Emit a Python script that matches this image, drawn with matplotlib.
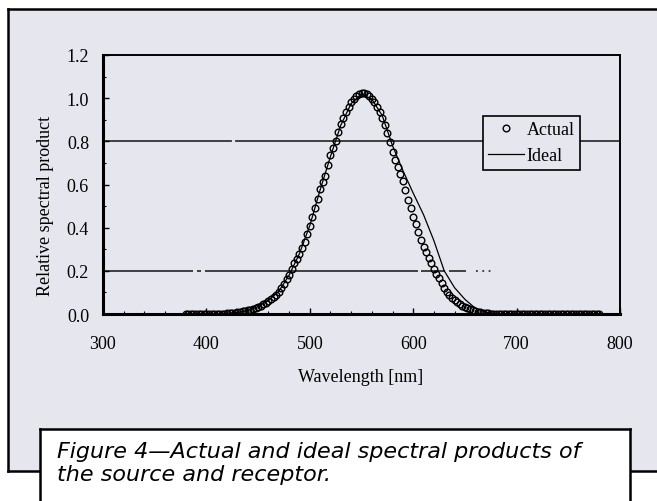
import matplotlib
matplotlib.use("Agg")
import matplotlib.pyplot as plt
import numpy as np
from matplotlib.patches import Rectangle
from matplotlib.lines import Line2D
from matplotlib.ticker import MultipleLocator

# measured ("actual") spectral product, sampled every 2.5 nm from 380 to 780 nm
wl_actual = np.linspace(380, 780, 161)
actual = ([0.0] * 16 +
          [0.003, 0.004, 0.005, 0.006, 0.008, 0.010, 0.012, 0.014, 0.017, 0.020,
           0.023, 0.028, 0.033, 0.039, 0.046, 0.053, 0.060, 0.070, 0.080, 0.090,
           0.100, 0.120, 0.140, 0.160, 0.180, 0.208, 0.235, 0.257, 0.280, 0.307,
           0.335, 0.372, 0.410, 0.450, 0.490, 0.535, 0.580, 0.610, 0.640, 0.690,
           0.735, 0.768, 0.800, 0.842, 0.880, 0.910, 0.935, 0.960, 0.980, 0.997,
           1.010, 1.020, 1.025, 1.024, 1.020, 1.010, 0.995, 0.980, 0.960, 0.937,
           0.910, 0.877, 0.840, 0.795, 0.750, 0.715, 0.680, 0.648, 0.615, 0.573,
           0.530, 0.490, 0.450, 0.415, 0.380, 0.345, 0.310, 0.285, 0.260, 0.235,
           0.210, 0.187, 0.165, 0.142, 0.120, 0.103, 0.087, 0.076, 0.065, 0.056,
           0.047, 0.039, 0.032, 0.027, 0.022, 0.018, 0.014, 0.011, 0.008, 0.006,
           0.004, 0.003, 0.002, 0.001] +
          [0.0] * 41)

# ideal product, every 10 nm
wl_ideal = list(range(380, 790, 10))
ideal = [0.0, 0.0, 0.0, 0.001, 0.003, 0.007, 0.016, 0.034, 0.062, 0.105,
         0.18, 0.28, 0.41, 0.575, 0.73, 0.875, 0.975, 1.02, 0.995, 0.92,
         0.78, 0.665, 0.56, 0.46, 0.34, 0.20, 0.122, 0.068, 0.027, 0.008,
         0.001, 0.0, 0.0, 0.0, 0.0, 0.0, 0.0, 0.0, 0.0, 0.0, 0.0]

xticks = [300, 400, 500, 600, 700, 800]
xtick_labels = ["300", "400", "500", "600", "700", "800"]
yticks = [0.0, 0.2, 0.4, 0.6, 0.8, 1.0, 1.2]
ytick_labels = ["0.0", "0.2", "0.4", "0.6", "0.8", "1.0", "1.2"]

caption1 = "Figure 4\u2014Actual and ideal spectral products of"
caption2 = "the source and receptor."

W, H = 657, 502
panel = "#e6e6ee"

plt.rcParams["font.family"] = ["Liberation Serif", "DejaVu Serif"]

fig = plt.figure(figsize=(W / 100, H / 100), dpi=100)
fig.patch.set_facecolor("white")


def fx(px):
    return px / W


def fy(py):
    return 1 - py / H


# grey panel behind the chart, runs off the right edge (fill + border lines)
fig.add_artist(Rectangle((fx(8), fy(472)), fx(700), 462 / H,
                         transform=fig.transFigure, facecolor=panel,
                         edgecolor="none", zorder=-5))
for xs, ys in [([8, 700], [10, 10]), ([8, 8], [10, 472]), ([8, 700], [472, 472])]:
    fig.add_artist(Line2D([fx(v) for v in xs], [fy(v) for v in ys],
                          transform=fig.transFigure, color="black", lw=1.8,
                          zorder=-4))

ax = fig.add_axes([fx(103), fy(315), 517 / W, 259 / H])
ax.set_facecolor(panel)

# reference lines (as they survive in the scan)
ax.axhline(0.8, xmin=0, xmax=0.248, color="#333333", lw=1.3, zorder=1)
ax.axhline(0.8, xmin=0.257, xmax=1, color="#333333", lw=1.3, zorder=1)
for a, b in [(300, 387), (391, 395), (399, 605), (608, 631), (635, 651)]:
    ax.hlines(0.2, a, b, color="#333333", lw=1.3, zorder=1)
ax.hlines(0.2, 661, 679, color="#333333", lw=1.3, linestyles=(0, (1, 2.5)), zorder=1)

ax.plot(wl_actual, actual, "o", mfc="none", mec="black", ms=4.8, mew=1.0,
        label="Actual", zorder=3)
ax.plot(wl_ideal, ideal, "-", color="black", lw=0.9, label="Ideal", zorder=2)

ax.set_xlim(300, 800)
ax.set_ylim(0, 1.2)
ax.set_xticks(xticks)
ax.set_xticklabels(xtick_labels)
ax.set_yticks(yticks)
ax.set_yticklabels(ytick_labels)
ax.xaxis.set_minor_locator(MultipleLocator(20))
ax.yaxis.set_minor_locator(MultipleLocator(0.1))
ax.tick_params(which="major", direction="in", length=4, width=1, labelsize=13)
ax.tick_params(which="minor", direction="in", length=2.5, width=0.8)
ax.tick_params(axis="x", pad=15)
ax.tick_params(axis="y", pad=10)

for s in ["left", "bottom"]:
    ax.spines[s].set_linewidth(2.2)
for s in ["top", "right"]:
    ax.spines[s].set_linewidth(1.4)

ax.set_xlabel("Wavelength [nm]", fontsize=13, va="center")
ax.xaxis.set_label_coords(0.499, -0.243)
ax.set_ylabel("Relative spectral product", fontsize=13, va="center")
ax.yaxis.set_label_coords(-0.112, 0.421)

leg = ax.legend(loc="upper left", bbox_to_anchor=(0.735, 0.7645),
                borderaxespad=0, fontsize=13, numpoints=1, fancybox=False,
                framealpha=1, facecolor=panel, edgecolor="black",
                handlelength=1.95, handletextpad=0.15, borderpad=0.3,
                labelspacing=0.5)
leg.get_frame().set_linewidth(1.2)

# caption box (bottom runs off the page)
fig.add_artist(Rectangle((fx(40), fy(560)), 590 / W, 130 / H,
                         transform=fig.transFigure, facecolor="white",
                         edgecolor="none", zorder=2))
for xs, ys in [([40, 40], [430, 560]), ([40, 630], [430, 430]), ([630, 630], [430, 560])]:
    fig.add_artist(Line2D([fx(v) for v in xs], [fy(v) for v in ys],
                          transform=fig.transFigure, color="black", lw=1.8,
                          zorder=2.5))
cap_font = ["DejaVu Sans"]
fig.text(fx(57), fy(458), caption1, family=cap_font, style="italic",
         fontsize=16, va="baseline", zorder=3)
fig.text(fx(57), fy(481), caption2, family=cap_font, style="italic",
         fontsize=16, va="baseline", zorder=3)

fig.savefig("out.png", dpi=100)
